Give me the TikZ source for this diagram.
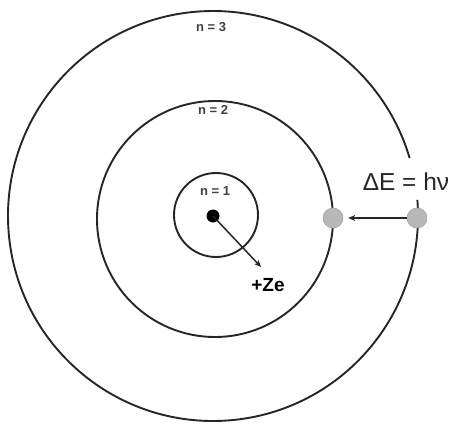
\documentclass[tikz,border=0pt]{standalone}
\usepackage{fontspec}
\setmainfont{Liberation Sans}
\usetikzlibrary{arrows.meta,calc}
\begin{document}
\begin{tikzpicture}[x=1pt,y=-1pt,
  orbit/.style={line width=1.9pt,draw=black!85},
  electron/.style={circle,fill=black!28,draw=black!35,line width=0.6pt,minimum size=20pt,inner sep=0pt},
  nlabel/.style={font=\bfseries\fontsize{13}{15}\selectfont,text=black!75,inner sep=0pt},
  arr/.style={line width=1.5pt,draw=black!85,-{Stealth[length=7pt,width=6pt]}}]
\useasboundingbox[fill=white] (0,0) rectangle (460,423);
\coordinate (c) at (213,216);
\draw[orbit] (216,215) circle[radius=42];
\draw[orbit] (215,219) circle[radius=118];
\draw[orbit] ($(c)+(-4.5:205)$) arc[start angle=-4.5,end angle=343.6,radius=205];
\node[nlabel] (n3) at (211,27) {n = 3};
\node[nlabel] (n2) at (213,110) {n = 2};
\node[nlabel] (n1) at (215,191) {n = 1};
\node[circle,fill=black,minimum size=13pt,inner sep=0pt] (nuc) at (213,216) {};
\coordinate (zend) at (261,267);
\draw[arr] (nuc.center) -- (zend);
\node[font=\bfseries\fontsize{19}{22}\selectfont,inner sep=0pt] (ze) at (268,285) {+Ze};
\node[electron] (e2) at (333,218) {};
\node[electron] (e3) at (417,218) {};
\draw[arr,shorten >=5pt] (e3) -- (e2);
\node[font=\fontsize{24.5}{28}\selectfont,inner sep=0pt,text=black!85] (de) at (406,182) {ΔE = hν};
\end{tikzpicture}
\end{document}
